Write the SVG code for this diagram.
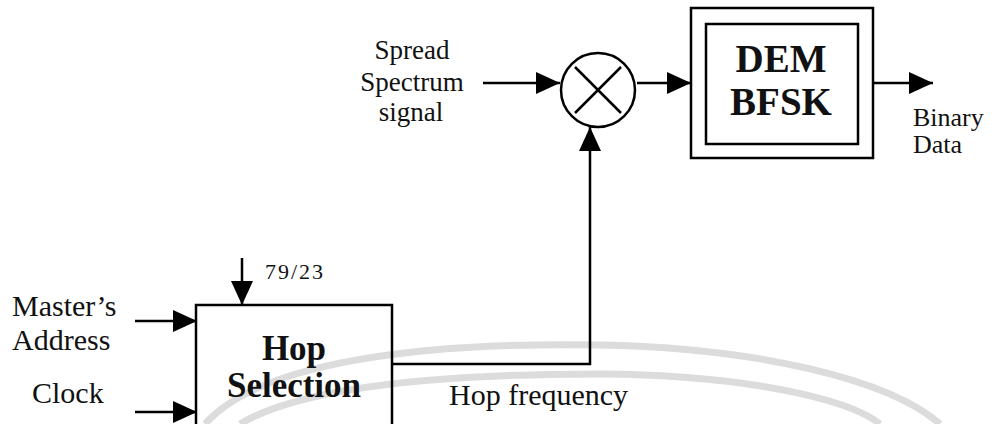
<svg xmlns="http://www.w3.org/2000/svg" width="992" height="424" viewBox="0 0 992 424">
<defs>
<marker id="ah" markerUnits="userSpaceOnUse" markerWidth="24" markerHeight="22" refX="24" refY="11" orient="auto">
<path d="M0,0 L24,11 L0,22 z" fill="#000"/>
</marker>
<style>
.t{font-family:"Liberation Serif","Times New Roman",serif;fill:#111}
.b{font-weight:bold}
.ln{fill:none;stroke:#000;stroke-width:2.5}
.box{fill:none;stroke:#000;stroke-width:2.5}
.wm{fill:none;stroke:#dcdcdc;stroke-width:7}
</style>
</defs>
<rect width="992" height="424" fill="#fff"/>
<g id="watermark">
<path class="wm" d="M205,424 C260,362 420,342 600,345 C760,348 890,380 940,424"/>
<path class="wm" d="M240,424 C300,388 430,374 600,374 C750,375 850,400 880,424"/>
</g>
<g id="connectors">
<line class="ln" x1="483" y1="83" x2="560" y2="83" marker-end="url(#ah)"/>
<line class="ln" x1="637" y1="83" x2="691" y2="83" marker-end="url(#ah)"/>
<line class="ln" x1="873" y1="83" x2="933" y2="83" marker-end="url(#ah)"/>
<polyline class="ln" points="392,364 590,364 590,127" marker-end="url(#ah)"/>
<line class="ln" x1="242" y1="258" x2="242" y2="305" marker-end="url(#ah)"/>
<line class="ln" x1="135" y1="321" x2="197" y2="321" marker-end="url(#ah)"/>
<line class="ln" x1="135" y1="412" x2="197" y2="412" marker-end="url(#ah)"/>
</g>
<g id="input-label">
<text class="t" font-size="27" x="412" y="59" text-anchor="middle">Spread</text>
<text class="t" font-size="27" x="412" y="91" text-anchor="middle">Spectrum</text>
<text class="t" font-size="27" x="411" y="121" text-anchor="middle">signal</text>
</g>
<g id="mixer">
<circle cx="598" cy="90" r="37" fill="none" stroke="#000" stroke-width="2.5"/>
<line class="ln" x1="575" y1="67" x2="621" y2="113"/>
<line class="ln" x1="621" y1="67" x2="575" y2="113"/>
</g>
<g id="dem-bfsk">
<rect class="box" x="691" y="8" width="182" height="150"/>
<rect class="box" x="706" y="24" width="152" height="120"/>
<text class="t b" font-size="39" x="781" y="72" text-anchor="middle">DEM</text>
<text class="t b" font-size="39" x="781" y="115" text-anchor="middle">BFSK</text>
</g>
<g id="output-label">
<text class="t" font-size="26" x="913" y="126">Binary</text>
<text class="t" font-size="26" x="913" y="153">Data</text>
</g>
<g id="hop-selection">
<rect class="box" x="196" y="305" width="196" height="130"/>
<text class="t b" font-size="35" x="294" y="360" text-anchor="middle">Hop</text>
<text class="t b" font-size="35" x="294" y="397" text-anchor="middle">Selection</text>
</g>
<g id="side-labels">
<text class="t" font-size="22" x="265" y="279" letter-spacing="2">79/23</text>
<text class="t" font-size="30" x="12" y="316">Master’s</text>
<text class="t" font-size="30" x="12" y="350">Address</text>
<text class="t" font-size="30" x="32" y="403">Clock</text>
<text class="t" font-size="30" x="449" y="405">Hop frequency</text>
</g>
</svg>
